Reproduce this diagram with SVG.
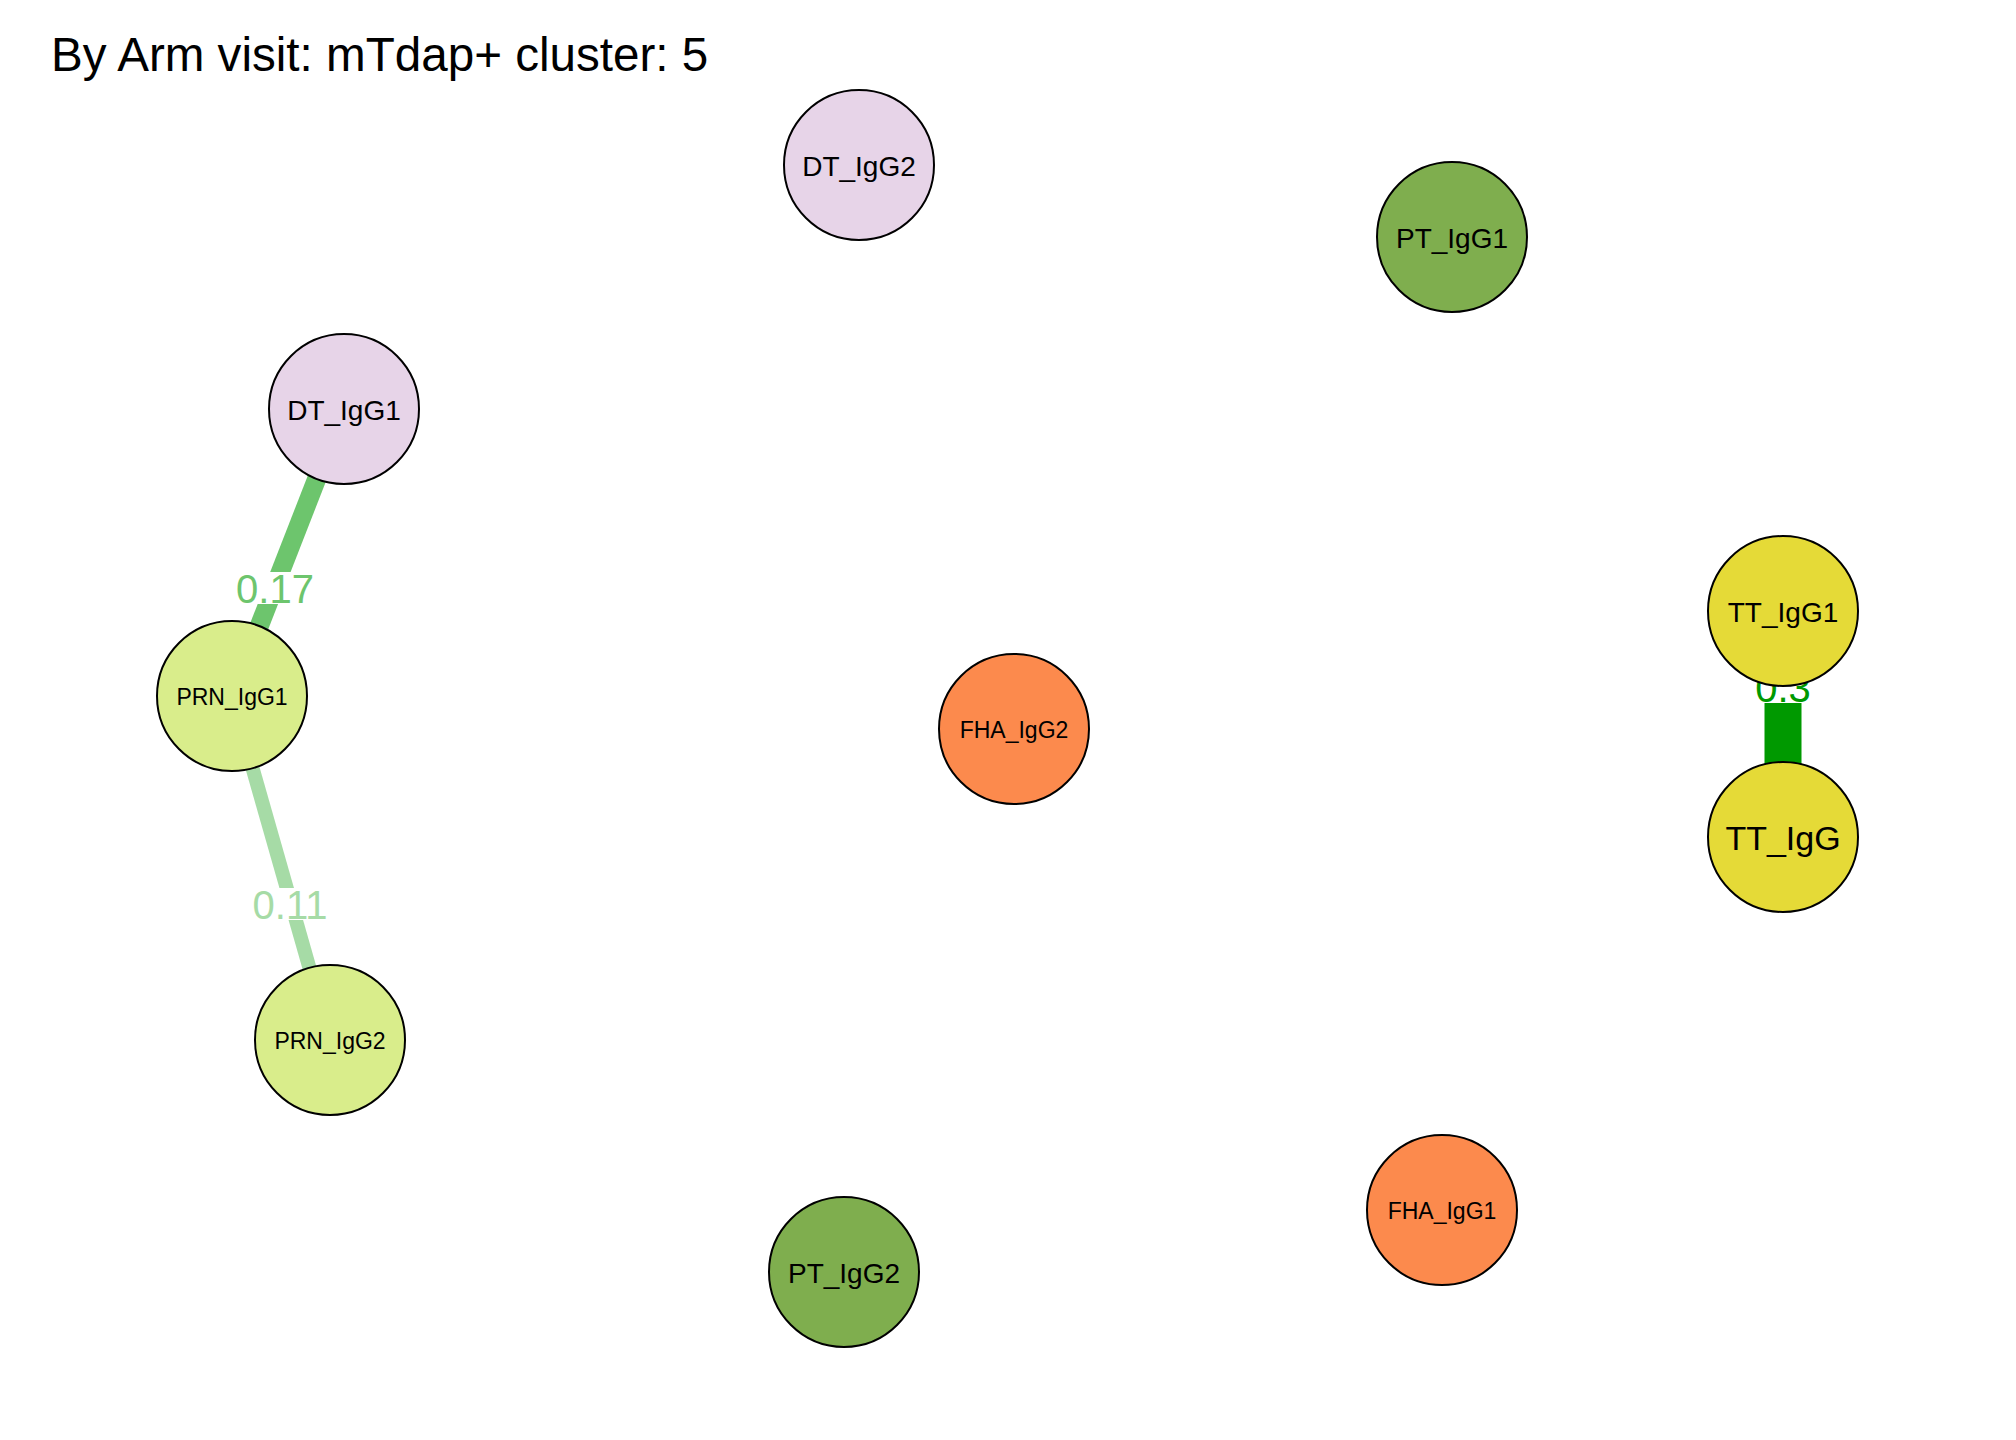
<svg xmlns="http://www.w3.org/2000/svg" width="2016" height="1440" viewBox="0 0 2016 1440">
<style>
text{font-family:"Liberation Sans",Arial,sans-serif;}
.node circle{stroke:#000;stroke-width:2;}
.nl{fill:#000;text-anchor:middle;}
.el{text-anchor:middle;font-size:40px;}
.dt{fill:#E7D4E8;}
.pt{fill:#7FAE4E;}
.prn{fill:#D9ED8B;}
.fha{fill:#FC8A4D;}
.tt{fill:#E5DA37;}
</style>
<rect width="2016" height="1440" fill="#fff"/>
<text x="51" y="71" font-size="47.6" fill="#000">By Arm visit: mTdap+ cluster: 5</text>
<g id="connectors">
<g id="e-dt1-prn1">
<line x1="344" y1="409" x2="232" y2="696" stroke="#6DC56D" stroke-width="19"/>
<rect x="236" y="572" width="78" height="32" fill="#fff"/>
<text class="el" x="275" y="603" fill="#6DC56D">0.17</text>
</g>
<g id="e-prn1-prn2">
<line x1="232" y1="696" x2="330" y2="1040" stroke="#A6DBA6" stroke-width="14"/>
<rect x="252" y="888" width="76" height="32" fill="#fff"/>
<text class="el" x="290" y="919" fill="#A6DBA6">0.11</text>
</g>
<g id="e-tt1-tt">
<line x1="1783" y1="611" x2="1783" y2="837" stroke="#009900" stroke-width="37"/>
<rect x="1755" y="671" width="56" height="32" fill="#fff"/>
<text class="el" x="1783" y="702" fill="#009900">0.3</text>
</g>
</g>
<g id="DT_IgG2" class="node"><circle class="dt" cx="859" cy="165" r="75"/><text class="nl" x="859" y="176" font-size="28">DT_IgG2</text></g>
<g id="PT_IgG1" class="node"><circle class="pt" cx="1452" cy="237" r="75"/><text class="nl" x="1452" y="248" font-size="28">PT_IgG1</text></g>
<g id="DT_IgG1" class="node"><circle class="dt" cx="344" cy="409" r="75"/><text class="nl" x="344" y="420" font-size="28">DT_IgG1</text></g>
<g id="PRN_IgG1" class="node"><circle class="prn" cx="232" cy="696" r="75"/><text class="nl" x="232" y="705" font-size="23">PRN_IgG1</text></g>
<g id="TT_IgG1" class="node"><circle class="tt" cx="1783" cy="611" r="75"/><text class="nl" x="1783" y="622" font-size="28">TT_IgG1</text></g>
<g id="FHA_IgG2" class="node"><circle class="fha" cx="1014" cy="729" r="75"/><text class="nl" x="1014" y="738" font-size="23">FHA_IgG2</text></g>
<g id="TT_IgG" class="node"><circle class="tt" cx="1783" cy="837" r="75"/><text class="nl" x="1783" y="850" font-size="34">TT_IgG</text></g>
<g id="PRN_IgG2" class="node"><circle class="prn" cx="330" cy="1040" r="75"/><text class="nl" x="330" y="1049" font-size="23">PRN_IgG2</text></g>
<g id="PT_IgG2" class="node"><circle class="pt" cx="844" cy="1272" r="75"/><text class="nl" x="844" y="1283" font-size="28">PT_IgG2</text></g>
<g id="FHA_IgG1" class="node"><circle class="fha" cx="1442" cy="1210" r="75"/><text class="nl" x="1442" y="1219" font-size="23">FHA_IgG1</text></g>
</svg>
